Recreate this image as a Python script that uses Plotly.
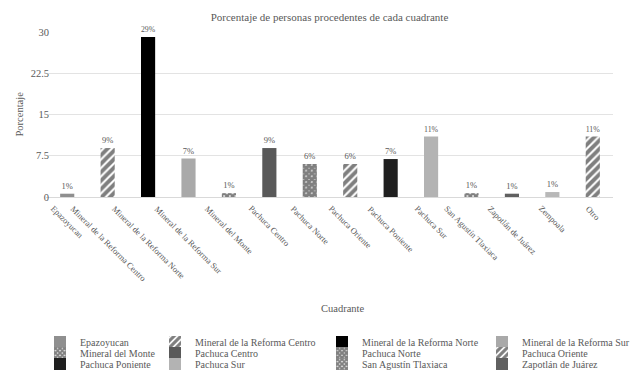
import plotly.graph_objects as go

# Share of people by place of origin (cuadrante), in percent
cuadrantes = [
    "Epazoyucan",
    "Mineral de la Reforma Centro",
    "Mineral de la Reforma Norte",
    "Mineral de la Reforma Sur",
    "Mineral del Monte",
    "Pachuca Centro",
    "Pachuca Norte",
    "Pachuca Oriente",
    "Pachuca Poniente",
    "Pachuca Sur",
    "San Agustín Tlaxiaca",
    "Zapotlán de Juárez",
    "Zempoala",
    "Otro",
]
porcentajes = [0.6, 8.9, 29.1, 7.0, 0.7, 8.9, 6.0, 6.0, 6.9, 11.0, 0.7, 0.6, 0.9, 11.0]

y_ticks = [0, 7.5, 15, 22.5, 30]
y_tick_text = ["0", "7.5", "15", "22.5", "30"]

W, H = 635, 374
ML, MR, MT, MB = 46, 22, 32, 177
PW, PH = W - ML - MR, H - MT - MB
FONT = "Liberation Serif"
TXT = "#595959"

STRIPE = dict(shape="/", fgcolor="#000000", bgcolor="#ffffff", size=6, solidity=0.65)
CROSS = dict(shape="x", fgcolor="#000000", bgcolor="#ffffff", size=4, solidity=0.85)
CROSS_DENSE = dict(shape="x", fgcolor="#000000", bgcolor="#ffffff", size=4, solidity=0.9)

fills = {
    "Epazoyucan": dict(color="#8f8f8f"),
    "Mineral de la Reforma Centro": dict(color="#000000", pattern=STRIPE),
    "Mineral de la Reforma Norte": dict(color="#000000"),
    "Mineral de la Reforma Sur": dict(color="#a9a9a9"),
    "Mineral del Monte": dict(color="#000000", pattern=CROSS),
    "Pachuca Centro": dict(color="#595959"),
    "Pachuca Norte": dict(color="#000000", pattern=CROSS_DENSE),
    "Pachuca Oriente": dict(color="#000000", pattern=STRIPE),
    "Pachuca Poniente": dict(color="#1f1f1f"),
    "Pachuca Sur": dict(color="#b3b3b3"),
    "San Agustín Tlaxiaca": dict(color="#000000", pattern=CROSS),
    "Zapotlán de Juárez": dict(color="#606060"),
    "Zempoala": dict(color="#b8b8b8"),
    "Otro": dict(color="#000000", pattern=STRIPE),
}

# Legend grid: 4 columns, one legend box per entry
col_text_x = [80, 195, 362, 522]
row_y = [342, 353, 364]
n_legend = 12

fig = go.Figure()
layout_legends = {}
for i, (cat, val) in enumerate(zip(cuadrantes, porcentajes)):
    show = i < n_legend
    lname = "legend" if i == 0 else f"legend{i + 1}"
    fig.add_trace(go.Bar(
        x=[cat], y=[val], name=cat,
        width=0.35,
        marker=dict(line=dict(width=0), **fills[cat]),
        texttemplate="%{y:.0f}%", textposition="outside",
        textfont=dict(family=FONT, size=8.5, color=TXT),
        cliponaxis=False,
        showlegend=show,
        legend=lname if show else None,
    ))
    if show:
        r, c = divmod(i, 4)
        layout_legends[lname] = dict(
            xref="container", yref="container",
            x=(col_text_x[c] - 40) / W, y=1 - row_y[r] / H,
            xanchor="left", yanchor="middle",
            bgcolor="rgba(0,0,0,0)", borderwidth=0,
            font=dict(family=FONT, size=10, color=TXT),
        )

# Category labels rotated 45° and centred under each bar
annotations = [
    dict(x=cat, y=0, xref="x", yref="paper", text=cat, showarrow=False,
         textangle=45, xanchor="center", yanchor="top", yshift=-4,
         font=dict(family=FONT, size=8.5, color=TXT))
    for cat in cuadrantes
]
# Axis titles
annotations.append(dict(
    x=(342 - ML) / PW, y=(MT + PH - 308) / PH, xref="paper", yref="paper",
    text="Cuadrante", showarrow=False, xanchor="center", yanchor="middle",
    font=dict(family=FONT, size=10.5, color=TXT)))
annotations.append(dict(
    x=(19 - ML) / PW, y=0.5, xref="paper", yref="paper",
    text="Porcentaje", showarrow=False, textangle=-90,
    xanchor="center", yanchor="middle",
    font=dict(family=FONT, size=10.5, color=TXT)))

fig.update_layout(
    width=W, height=H,
    margin=dict(l=ML, r=MR, t=MT, b=MB, autoexpand=False),
    paper_bgcolor="white", plot_bgcolor="white",
    barmode="overlay",
    font=dict(family=FONT, color=TXT),
    title=dict(text="Porcentaje de personas procedentes de cada cuadrante",
               x=0.5, xref="paper", y=1 - 17 / H, yref="container",
               xanchor="center", yanchor="middle",
               font=dict(family=FONT, size=11, color=TXT)),
    annotations=annotations,
    **layout_legends,
)
fig.update_xaxes(showticklabels=False, showgrid=False, ticks="",
                 showline=True, linecolor="#d9d9d9", linewidth=1,
                 categoryorder="array", categoryarray=cuadrantes)
fig.update_yaxes(range=[0, 30], tickvals=y_ticks, ticktext=y_tick_text,
                 showgrid=True, gridcolor="#e3e3e3", gridwidth=1,
                 zeroline=False, showline=False, ticks="",
                 ticklabelstandoff=-4,
                 tickfont=dict(family=FONT, size=10.5, color=TXT))

fig.write_html("out.html")
